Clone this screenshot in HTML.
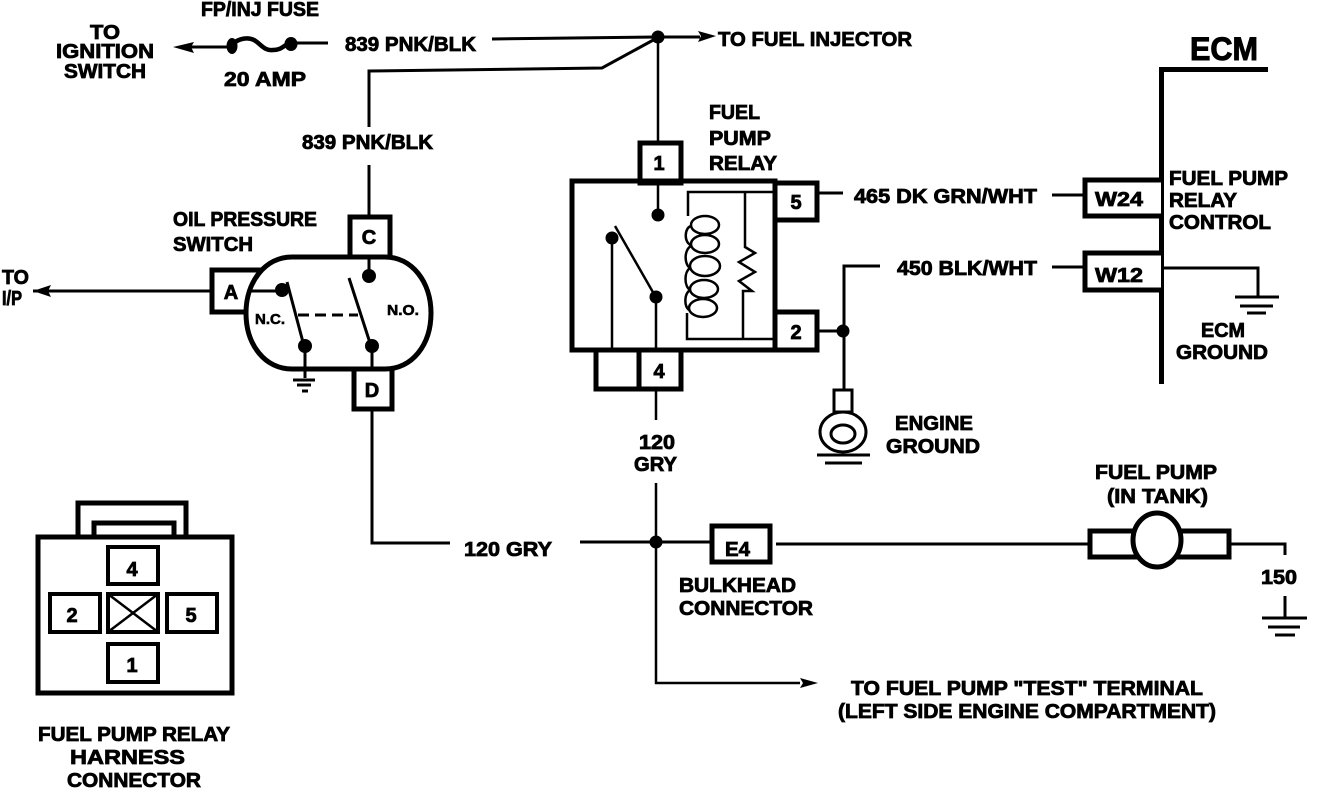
<!DOCTYPE html>
<html>
<head>
<meta charset="utf-8">
<style>
html,body{margin:0;padding:0;background:#fff}
svg{display:block}
text{font-family:"Liberation Sans",sans-serif;font-weight:bold;font-size:20px;fill:#000;stroke:#000;stroke-width:.8px}
.c{text-anchor:middle}
.s{font-size:15px;stroke-width:.6px}
.l{font-size:32px;stroke-width:1px}
.w{fill:none;stroke:#000;stroke-width:2.5}
.b{fill:#fff;stroke:#000;stroke-width:5}
.t{fill:#fff;stroke:#000;stroke-width:4}
.d{fill:none;stroke:#000;stroke-width:3}
</style>
</head>
<body>
<svg width="1328" height="788" viewBox="0 0 1328 788" xmlns="http://www.w3.org/2000/svg">
<!-- top wiring -->
<path class="d" d="M190,47H232M291,43H328M492,39L657,37H700"/>
<path fill="none" stroke="#000" stroke-width="4.5" d="M232,44C240,38 248,37 254,40C261,44 264,51 273,50C283,50 284,44 291,43"/>
<path d="M173,47L194,42L191,47L194,53Z"/>
<path d="M716,36L698,31L701,36L698,42Z"/>
<ellipse cx="232" cy="46" rx="5.5" ry="8"/><ellipse cx="291" cy="44" rx="6.5" ry="7"/><circle cx="658" cy="37" r="6.5"/>
<path class="d" d="M369,127V71L602,68L657,38"/>
<path class="w" d="M658,37V141"/>
<path class="d" d="M369,165V217"/>
<!-- oil pressure switch -->
<path class="b" d="M212,270H262V312H212Z"/>
<path class="b" d="M350,217H390V258H350Z"/>
<path class="b" d="M354,368H392V409H354Z"/>
<path fill="#fff" stroke="#000" stroke-width="5" d="M292,257H385C412,257 431,282 431,313C431,345 412,369 385,369H292C265,369 246,345 246,313C246,282 265,257 292,257Z"/>
<path class="d" d="M33,291H212M248,291H282"/>
<path d="M33,291L51,285L48,291L51,297Z"/>
<circle cx="282" cy="290" r="7"/><circle cx="369" cy="276" r="7"/><circle cx="305" cy="346" r="7"/><circle cx="372" cy="346" r="7"/>
<path class="d" d="M369,258V276M287,282L304,346M349,278L371,346M305,346V378M372,346V369"/>
<path class="d" stroke-dasharray="11,6" d="M298,315H358"/>
<path class="d" d="M293,380H315M297,385H311M302,391H308"/>
<path class="d" d="M372,409V543H450M580,542H711M776,544H1088"/>
<!-- connector -->
<path class="b" d="M78,536V503H186V536"/>
<path class="b" d="M94,536V523H174V536"/>
<rect class="b" x="38" y="537" width="194" height="156"/>
<rect class="t" x="108" y="547" width="50" height="37"/>
<rect class="t" x="50" y="594" width="50" height="38"/>
<rect class="t" x="108" y="594" width="50" height="38"/>
<rect class="t" x="167" y="594" width="50" height="38"/>
<rect class="t" x="108" y="644" width="50" height="38"/>
<path class="w" d="M108,594L158,632M108,632L158,594"/>
<!-- relay -->
<rect class="b" x="640" y="143" width="41" height="40"/>
<rect class="b" x="775" y="183" width="42" height="37"/>
<rect class="b" x="775" y="312" width="42" height="38"/>
<rect class="b" x="596" y="350" width="85" height="39"/>
<path class="b" d="M639,350V389"/>
<path class="b" style="fill:none" d="M572,181H775V350H572Z"/>
<path class="w" d="M658,181V215M612,238V350M656,297V350M615,226L654,294"/>
<circle cx="658" cy="215" r="6.5"/><circle cx="612" cy="238" r="6.5"/><circle cx="656" cy="297" r="6.5"/>
<path class="w" d="M775,192H688V216M687,313V339H775M745,192V247L755,253L739,262L755,272L739,281L752,291H743V339"/>
<g class="w">
<ellipse class="w" cx="705" cy="225" rx="14" ry="9"/>
<ellipse class="w" cx="705" cy="244" rx="14" ry="9"/>
<ellipse class="w" cx="705" cy="266" rx="15" ry="10"/>
<ellipse class="w" cx="704" cy="289" rx="14" ry="9"/>
<ellipse class="w" cx="703" cy="308" rx="14" ry="9"/>
</g>
<path class="w" d="M691,226C684,228 684,243 691,245M691,246C684,250 684,264 690,268M690,268C684,272 684,286 690,290M690,290C684,294 684,306 689,310"/>
<path class="d" d="M818,193H843M818,331H843"/>
<path class="d" d="M880,266H844V390"/>
<circle cx="843" cy="331" r="6.5"/>
<path class="d" d="M834,390H852V412H834Z"/>
<ellipse class="d" cx="843" cy="432" rx="23" ry="20"/>
<ellipse class="d" cx="843" cy="434" rx="12" ry="9"/>
<path class="d" d="M817,455H870M825,463H862"/>
<path class="w" d="M656,390V420M656,483V683H800"/>
<path d="M818,683L800,678L803,683L800,688Z"/>
<circle cx="656" cy="542" r="6.5"/>
<!-- E4 -->
<rect class="b" x="712" y="526" width="58" height="36"/>
<!-- ECM -->
<path d="M1159,67H1268V72H1164V384H1159Z"/>
<path class="b" d="M1161,180H1085V216H1161"/>
<path class="b" d="M1161,253H1085V290H1161"/>
<path class="d" d="M1052,195H1083M1052,267H1083M1161,268H1258V296"/>
<path class="d" d="M1235,297H1279M1240,306H1273M1247,313H1266"/>
<!-- fuel pump -->
<rect class="b" x="1090" y="531" width="139" height="26"/>
<ellipse fill="#fff" stroke="#000" stroke-width="5" cx="1157" cy="540" rx="24" ry="27"/>
<path class="d" d="M1231,544H1285V555M1285,596V618"/>
<path class="d" d="M1262,618H1307M1268,627H1300M1275,635H1295"/>

<!-- labels -->
<text x="201" y="16" textLength="118" lengthAdjust="spacingAndGlyphs">FP/INJ FUSE</text>
<text x="90" y="39" textLength="30" lengthAdjust="spacingAndGlyphs">TO</text>
<text x="56" y="58" textLength="98" lengthAdjust="spacingAndGlyphs">IGNITION</text>
<text x="64" y="78" textLength="82" lengthAdjust="spacingAndGlyphs">SWITCH</text>
<text x="224" y="86" textLength="82" lengthAdjust="spacingAndGlyphs">20 AMP</text>
<text x="345" y="51" textLength="131" lengthAdjust="spacingAndGlyphs">839 PNK/BLK</text>
<text x="718" y="46" textLength="194" lengthAdjust="spacingAndGlyphs">TO FUEL INJECTOR</text>
<text x="709" y="119" textLength="51" lengthAdjust="spacingAndGlyphs">FUEL</text>
<text x="709" y="145" textLength="62" lengthAdjust="spacingAndGlyphs">PUMP</text>
<text x="709" y="170" textLength="68" lengthAdjust="spacingAndGlyphs">RELAY</text>
<text x="302" y="149" textLength="131" lengthAdjust="spacingAndGlyphs">839 PNK/BLK</text>
<text x="173" y="226" textLength="144" lengthAdjust="spacingAndGlyphs">OIL PRESSURE</text>
<text x="173" y="251" textLength="80" lengthAdjust="spacingAndGlyphs">SWITCH</text>
<text x="2" y="284" textLength="27" lengthAdjust="spacingAndGlyphs">TO</text>
<text x="2" y="305" textLength="20" lengthAdjust="spacingAndGlyphs">I/P</text>
<text class="c" x="231" y="299">A</text>
<text class="c" x="369" y="244">C</text>
<text class="c" x="372" y="397">D</text>
<text class="s" x="255" y="324" textLength="30" lengthAdjust="spacingAndGlyphs">N.C.</text>
<text class="s" x="387" y="315" textLength="32" lengthAdjust="spacingAndGlyphs">N.O.</text>
<text class="c" x="659" y="170">1</text>
<text class="c" x="796" y="209">5</text>
<text class="c" x="796" y="339">2</text>
<text class="c" x="659" y="378">4</text>
<text x="854" y="203" textLength="183" lengthAdjust="spacingAndGlyphs">465 DK GRN/WHT</text>
<text x="897" y="275" textLength="140" lengthAdjust="spacingAndGlyphs">450 BLK/WHT</text>
<text x="1095" y="206" textLength="48" lengthAdjust="spacingAndGlyphs">W24</text>
<text x="1095" y="282" textLength="48" lengthAdjust="spacingAndGlyphs">W12</text>
<text x="1169" y="185" textLength="119" lengthAdjust="spacingAndGlyphs">FUEL PUMP</text>
<text x="1169" y="207" textLength="68" lengthAdjust="spacingAndGlyphs">RELAY</text>
<text x="1169" y="229" textLength="102" lengthAdjust="spacingAndGlyphs">CONTROL</text>
<text class="l" x="1190" y="60" textLength="68" lengthAdjust="spacingAndGlyphs">ECM</text>
<text x="1201" y="337" textLength="44" lengthAdjust="spacingAndGlyphs">ECM</text>
<text x="1176" y="359" textLength="92" lengthAdjust="spacingAndGlyphs">GROUND</text>
<text x="895" y="430" textLength="78" lengthAdjust="spacingAndGlyphs">ENGINE</text>
<text x="886" y="453" textLength="94" lengthAdjust="spacingAndGlyphs">GROUND</text>
<text x="639" y="449" textLength="36" lengthAdjust="spacingAndGlyphs">120</text>
<text x="634" y="471" textLength="43" lengthAdjust="spacingAndGlyphs">GRY</text>
<text x="464" y="556" textLength="88" lengthAdjust="spacingAndGlyphs">120 GRY</text>
<text x="725" y="556" textLength="25" lengthAdjust="spacingAndGlyphs">E4</text>
<text x="679" y="592" textLength="117" lengthAdjust="spacingAndGlyphs">BULKHEAD</text>
<text x="679" y="615" textLength="134" lengthAdjust="spacingAndGlyphs">CONNECTOR</text>
<text x="1095" y="479" textLength="122" lengthAdjust="spacingAndGlyphs">FUEL PUMP</text>
<text x="1107" y="503" textLength="101" lengthAdjust="spacingAndGlyphs">(IN TANK)</text>
<text x="1261" y="584" textLength="36" lengthAdjust="spacingAndGlyphs">150</text>
<text x="851" y="695" textLength="352" lengthAdjust="spacingAndGlyphs">TO FUEL PUMP "TEST" TERMINAL</text>
<text x="838" y="718" textLength="378" lengthAdjust="spacingAndGlyphs">(LEFT SIDE ENGINE COMPARTMENT)</text>
<text x="38" y="741" textLength="192" lengthAdjust="spacingAndGlyphs">FUEL PUMP RELAY</text>
<text x="70" y="764" textLength="115" lengthAdjust="spacingAndGlyphs">HARNESS</text>
<text x="67" y="787" textLength="134" lengthAdjust="spacingAndGlyphs">CONNECTOR</text>
<text class="c" x="132" y="576">4</text>
<text class="c" x="72" y="622">2</text>
<text class="c" x="191" y="622">5</text>
<text class="c" x="132" y="672">1</text>
</svg>
</body>
</html>
